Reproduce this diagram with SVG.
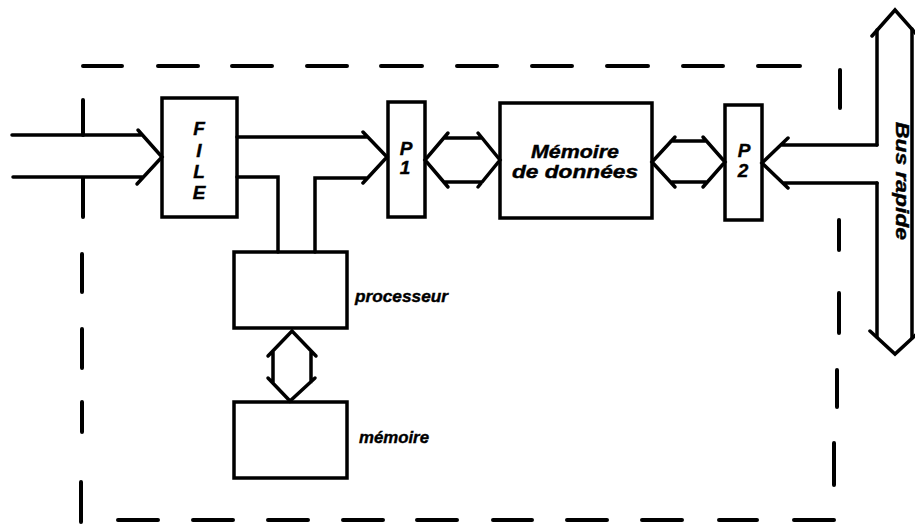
<svg xmlns="http://www.w3.org/2000/svg" width="915" height="524" viewBox="0 0 915 524">
<style>
.bx{fill:none;stroke:#000;stroke-width:3.5;stroke-linejoin:miter}
.ln{fill:none;stroke:#000;stroke-width:3.5;stroke-linecap:round;stroke-linejoin:miter}
.ds{fill:none;stroke:#000;stroke-width:4;stroke-linecap:round}
.t{font-family:"Liberation Sans",Arial,sans-serif;font-weight:bold;font-style:italic;fill:#000;stroke:#000;stroke-width:0.4}
</style>
<rect width="915" height="524" fill="#fff"/>
<g id="boundary">
<path class="ds" d="M83 66H122M158 66H198M232 66H272M307 66H347M381 66H422M457 66H497M532 66H572M607 66H648M683 66H723M758 66H800"/>
<path class="ds" d="M118 520H158M193 520H233M268 520H308M343 520H383M417 520H457M493 520H532M567 520H607M642 520H682M719 520H757M794 520H834"/>
<path class="ds" d="M83 100V135M83 178V217M82 254V292M82 329V368M82 402V432M81 482V522"/>
<path class="ds" d="M840 70V108M839 220V250M839 293V333M837 370V407M834 443V485"/>
</g>
<g id="file">
<rect class="bx" x="162" y="98" width="75" height="119"/>
<text class="t" font-size="19" text-anchor="middle" x="199" y="135">F</text>
<text class="t" font-size="19" text-anchor="middle" x="199" y="157">I</text>
<text class="t" font-size="19" text-anchor="middle" x="199" y="178">L</text>
<text class="t" font-size="19" text-anchor="middle" x="199" y="199">E</text>
</g>
<g id="p1">
<rect class="bx" x="388" y="102" width="37" height="115"/>
<text class="t" font-size="19" text-anchor="middle" x="406" y="155">P</text>
<text class="t" font-size="19" text-anchor="middle" x="405" y="174">1</text>
</g>
<g id="memoire-donnees">
<rect class="bx" x="500" y="103" width="152" height="115"/>
<text class="t" font-size="18" text-anchor="middle" x="575" y="158" textLength="88" lengthAdjust="spacingAndGlyphs">Mémoire</text>
<text class="t" font-size="18" text-anchor="middle" x="575" y="178" textLength="126" lengthAdjust="spacingAndGlyphs">de données</text>
</g>
<g id="p2">
<rect class="bx" x="725" y="105" width="37" height="115"/>
<text class="t" font-size="19" text-anchor="middle" x="744" y="157">P</text>
<text class="t" font-size="19" text-anchor="middle" x="743" y="177">2</text>
</g>
<g id="processeur">
<rect class="bx" x="234" y="252" width="113" height="76"/>
<text class="t" font-size="17" x="355" y="302" textLength="93" lengthAdjust="spacingAndGlyphs">processeur</text>
</g>
<g id="memoire">
<rect class="bx" x="234" y="402" width="113" height="76"/>
<text class="t" font-size="17" x="359" y="443" textLength="70" lengthAdjust="spacingAndGlyphs">mémoire</text>
</g>
<g id="bus">
<path class="ln" d="M877 30V145M877 183V337M912 29V338"/>
<path class="ln" d="M872 36L895 10L918 36M870 331L895 354L920 331"/>
<text class="t" font-size="18" text-anchor="middle" transform="translate(896 181) rotate(90)" textLength="118" lengthAdjust="spacingAndGlyphs">Bus rapide</text>
</g>
<g id="connectors">
<path class="ln" d="M12 135H142M13 177H143M138 130L162 157L137 184"/>
<path class="ln" d="M237 137H367M363 132L387 157L363 183M315 252V178H367M237 177H278V252"/>
<path class="ln" d="M448 133L425 160L448 187M478 133L500 160L478 187M444 138H482M444 182H482"/>
<path class="ln" d="M675 137L652 162L675 187M703 137L725 162L703 187M671 141H706M671 182H706"/>
<path class="ln" d="M788 138L762 163L788 188M781 145H877M783 183H877"/>
<path class="ln" d="M268 356L292 331L316 356M268 378L290 401L315 378M273 351V383M311 351V382"/>
</g>
</svg>
